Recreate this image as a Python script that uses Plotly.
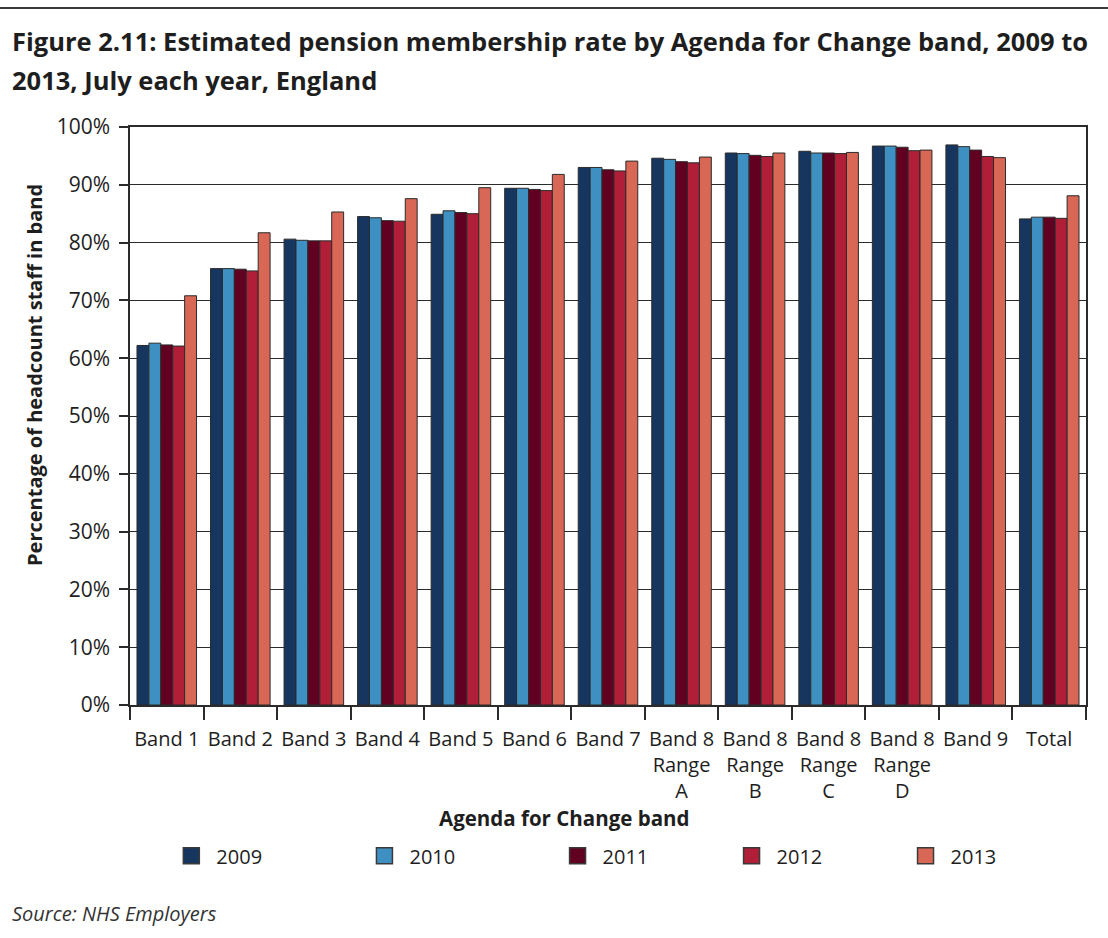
import plotly.graph_objects as go

# Agenda for Change bands (x categories)
bands = ["Band 1", "Band 2", "Band 3", "Band 4", "Band 5", "Band 6", "Band 7",
         "Band 8<br>Range<br>A", "Band 8<br>Range<br>B", "Band 8<br>Range<br>C",
         "Band 8<br>Range<br>D", "Band 9", "Total"]

years = ["2009", "2010", "2011", "2012", "2013"]

# Estimated pension membership rate (%), July each year
rate_2009 = [62.2, 75.5, 80.6, 84.5, 84.9, 89.4, 93.0, 94.6, 95.5, 95.8, 96.7, 96.9, 84.1]
rate_2010 = [62.6, 75.5, 80.4, 84.3, 85.5, 89.4, 93.0, 94.4, 95.4, 95.5, 96.7, 96.6, 84.4]
rate_2011 = [62.3, 75.4, 80.3, 83.8, 85.2, 89.2, 92.6, 94.0, 95.1, 95.5, 96.5, 96.0, 84.4]
rate_2012 = [62.1, 75.1, 80.3, 83.7, 85.0, 89.0, 92.4, 93.8, 94.9, 95.4, 95.9, 94.9, 84.2]
rate_2013 = [70.8, 81.7, 85.3, 87.6, 89.5, 91.8, 94.1, 94.8, 95.5, 95.6, 96.0, 94.7, 88.1]

series = [rate_2009, rate_2010, rate_2011, rate_2012, rate_2013]
colors = ["#17365F", "#3E90C2", "#620022", "#B01F37", "#D86755"]

y_ticks = list(range(0, 101, 10))
y_tick_text = [f"{v}%" for v in y_ticks]

title_lines = ["Figure 2.11: Estimated pension membership rate by Agenda for Change band, 2009 to",
               "2013, July each year, England"]

FONT = "Open Sans"
TXT = "#1e1e1e"

fig = go.Figure()

for yr, vals, col in zip(years, series, colors):
    fig.add_trace(go.Bar(
        x=bands, y=vals, name=yr, showlegend=False,
        marker=dict(color=col, line=dict(color="#2b2b2b", width=1)),
    ))

# Legend entries, one legend per year so each sits at its own spot
legend_x = [0.038, 0.240, 0.442, 0.624, 0.806]
legend_names = ["legend", "legend2", "legend3", "legend4", "legend5"]
for yr, col, lg in zip(years, colors, legend_names):
    fig.add_trace(go.Scatter(
        x=[None], y=[None], mode="markers", name=yr, legend=lg,
        marker=dict(symbol="square", size=16, color=col,
                    line=dict(color="#3a3a3a", width=1.5)),
    ))

legend_common = dict(orientation="h", yanchor="middle", xanchor="left", itemwidth=40,
                     bgcolor="rgba(0,0,0,0)", font=dict(family=FONT, size=20, color=TXT))
layout_legends = {}
for lg, lx in zip(legend_names, legend_x):
    layout_legends[lg] = dict(legend_common, x=lx, y=-0.261)

fig.update_layout(
    width=1108, height=938,
    margin=dict(l=130, r=22, t=127, b=233),
    paper_bgcolor="white", plot_bgcolor="white",
    barmode="group", bargap=0.19, bargroupgap=0,
    font=dict(family=FONT, color=TXT),
    xaxis=dict(
        type="category", tickson="boundaries", ticks="outside", ticklen=13,
        tickwidth=1.5, tickcolor="#2b2b2b", ticklabelstandoff=15,
        showline=True, linecolor="#2b2b2b", linewidth=1.5, mirror=True,
        showgrid=False, tickangle=0,
        tickfont=dict(family=FONT, size=20, color=TXT),
    ),
    yaxis=dict(
        range=[0, 100], tickvals=y_ticks, ticktext=y_tick_text,
        ticks="outside", ticklen=9, tickwidth=1.5, tickcolor="#2b2b2b",
        ticklabelstandoff=5,
        showline=True, linecolor="#2b2b2b", linewidth=1.5, mirror=True,
        showgrid=True, gridcolor="#2b2b2b", gridwidth=1.2,
        zeroline=False,
        tickfont=dict(family=FONT, size=21, color=TXT),
    ),
    **layout_legends,
)

# Two-line heading
for line, ty in zip(title_lines, [1.1488, 1.0813]):
    fig.add_annotation(
        text=f"<b>{line}</b>", xref="paper", yref="paper",
        x=-0.1255, y=ty, xanchor="left", yanchor="middle",
        showarrow=False, font=dict(family=FONT, size=25.5, color=TXT),
    )

# Axis titles
fig.add_annotation(
    text="<b>Percentage of headcount staff in band</b>",
    xref="paper", yref="paper", x=-0.0994, y=0.571, textangle=-90,
    xanchor="center", yanchor="middle",
    showarrow=False, font=dict(family=FONT, size=20, color=TXT),
)
fig.add_annotation(
    text="<b>Agenda for Change band</b>",
    xref="paper", yref="paper", x=0.454, y=-0.1955,
    xanchor="center", yanchor="middle",
    showarrow=False, font=dict(family=FONT, size=20.5, color=TXT),
)
# Source note
fig.add_annotation(
    text="<i>Source: NHS Employers</i>",
    xref="paper", yref="paper", x=-0.1255, y=-0.360, xanchor="left", yanchor="middle",
    showarrow=False, font=dict(family=FONT, size=20, color="#333333"),
)

# Rule across the top of the page
fig.add_shape(
    type="line", xref="paper", yref="paper",
    x0=-0.136, x1=1.023, y0=1.2059, y1=1.2059,
    line=dict(color="#3a3a3a", width=2),
)

fig.write_html("out.html")
